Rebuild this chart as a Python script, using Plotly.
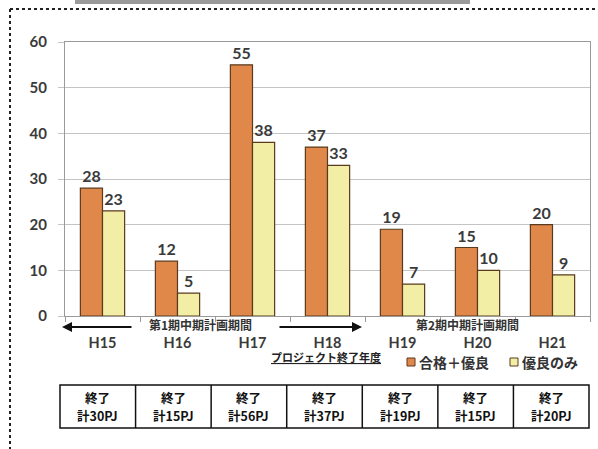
import plotly.graph_objects as go

# Fiscal years (Heisei) and counts per year
years = ["H15", "H16", "H17", "H18", "H19", "H20", "H21"]
pass_or_excellent = [28, 12, 55, 37, 19, 15, 20]
excellent_only = [23, 5, 38, 33, 7, 10, 9]
finished_totals = ["計30PJ", "計15PJ", "計56PJ", "計37PJ", "計19PJ", "計15PJ", "計20PJ"]

series_names = ["合格＋優良", "優良のみ"]
series_colors = ["#E0874A", "#F3EEA5"]
edge_color = "#5a3a1e"

W, H = 598, 449
FONT = "Noto Sans CJK JP"
NUM_FONT = "Lato"
TXT = "#3a3a3a"


def px(x):
    return x / W


def py(y):
    return 1 - y / H


def label(x, y, text, size=12, color="#333333", xanchor="center"):
    return dict(xref="paper", yref="paper", x=px(x), y=py(y),
                text=text, showarrow=False, xanchor=xanchor, yanchor="middle",
                font=dict(family=FONT, size=size, color=color, weight="bold"))


fig = go.Figure()

for name, vals, col in zip(series_names, [pass_or_excellent, excellent_only], series_colors):
    fig.add_bar(
        x=years, y=vals, name=name,
        marker=dict(color=col, line=dict(color=edge_color, width=1.2)),
        text=vals, textposition="outside", cliponaxis=False,
        textfont=dict(family=NUM_FONT, size=16, color=TXT, weight="bold"),
    )

shapes = [
    # dotted outer frame
    dict(type="line", xref="paper", yref="paper", x0=px(10), x1=px(598),
         y0=py(9), y1=py(9), line=dict(color="#222222", width=2, dash="dot")),
    dict(type="line", xref="paper", yref="paper", x0=px(10), x1=px(10),
         y0=py(9), y1=py(449), line=dict(color="#222222", width=2, dash="dot")),
    # clipped heading strip at top edge
    dict(type="rect", xref="paper", yref="paper", x0=px(75), x1=px(470),
         y0=py(4), y1=py(0), line=dict(width=0), fillcolor="#9a9a9a"),
]

annotations = [
    # period arrows
    dict(xref="paper", yref="paper", x=px(62), y=py(327), ax=71, ay=0,
         text="", showarrow=True, arrowhead=2, arrowsize=1, arrowwidth=2,
         arrowcolor="#111111"),
    dict(xref="paper", yref="paper", x=px(362), y=py(327), ax=-84, ay=0,
         text="", showarrow=True, arrowhead=2, arrowsize=1, arrowwidth=2,
         arrowcolor="#111111"),
    label(200, 324.5, "第1期中期計画期間", size=12),
    label(467, 324, "第2期中期計画期間", size=12),
    label(326, 357, "<u>プロジェクト終了年度</u>", size=11, color="#222222"),
]

# legend keys
legend_pos = [(407, "合格＋優良"), (510, "優良のみ")]
for (lx, _), col in zip(legend_pos, series_colors):
    shapes.append(dict(type="rect", xref="paper", yref="paper",
                       x0=px(lx), x1=px(lx + 8), y0=py(366), y1=py(358),
                       fillcolor=col, line=dict(color=edge_color, width=1)))
for (lx, _), name in zip(legend_pos, series_names):
    annotations.append(label(lx + 10, 362, name, size=14, xanchor="left"))

# summary table of finished projects
t_left, t_right, t_top, t_bot = 60, 589, 385, 428
col_w = (t_right - t_left) / len(years)
shapes.append(dict(type="rect", xref="paper", yref="paper",
                   x0=px(t_left), x1=px(t_right), y0=py(t_bot), y1=py(t_top),
                   line=dict(color="#111111", width=1.5)))
for i in range(1, len(years)):
    xb = t_left + i * col_w
    shapes.append(dict(type="line", xref="paper", yref="paper",
                       x0=px(xb), x1=px(xb), y0=py(t_bot), y1=py(t_top),
                       line=dict(color="#111111", width=1.5)))
for i, tot in enumerate(finished_totals):
    cx = t_left + (i + 0.5) * col_w
    annotations.append(label(cx, 397, "終了", size=12.5, color="#111111"))
    annotations.append(label(cx, 415, tot, size=12.5, color="#111111"))

fig.update_layout(
    width=W, height=H,
    margin=dict(l=0, r=0, t=0, b=0),
    paper_bgcolor="white", plot_bgcolor="white",
    barmode="group", bargap=0.41, bargroupgap=0,
    font=dict(family=FONT, color=TXT),
    shapes=shapes, annotations=annotations,
    showlegend=False,
    xaxis=dict(domain=[px(65), px(590)], automargin=False,
               showline=True, linecolor="#9a9a9a", linewidth=1.2, mirror=True,
               ticks="outside", tickson="boundaries", ticklen=5, tickcolor="#9a9a9a",
               ticklabelstandoff=13,
               tickfont=dict(family=NUM_FONT, size=14.5, color=TXT, weight="bold")),
    yaxis=dict(domain=[py(316), py(42)], automargin=False, range=[0, 60], dtick=10,
               showline=True, linecolor="#9a9a9a", linewidth=1.2, mirror=True,
               showgrid=True, gridcolor="#c4c4c4", gridwidth=1.2, zeroline=False,
               ticks="outside", ticklen=6, tickcolor="#c4c4c4", ticklabelstandoff=8,
               tickfont=dict(family=NUM_FONT, size=15, color=TXT, weight="bold")),
)

fig.write_html("out.html")
